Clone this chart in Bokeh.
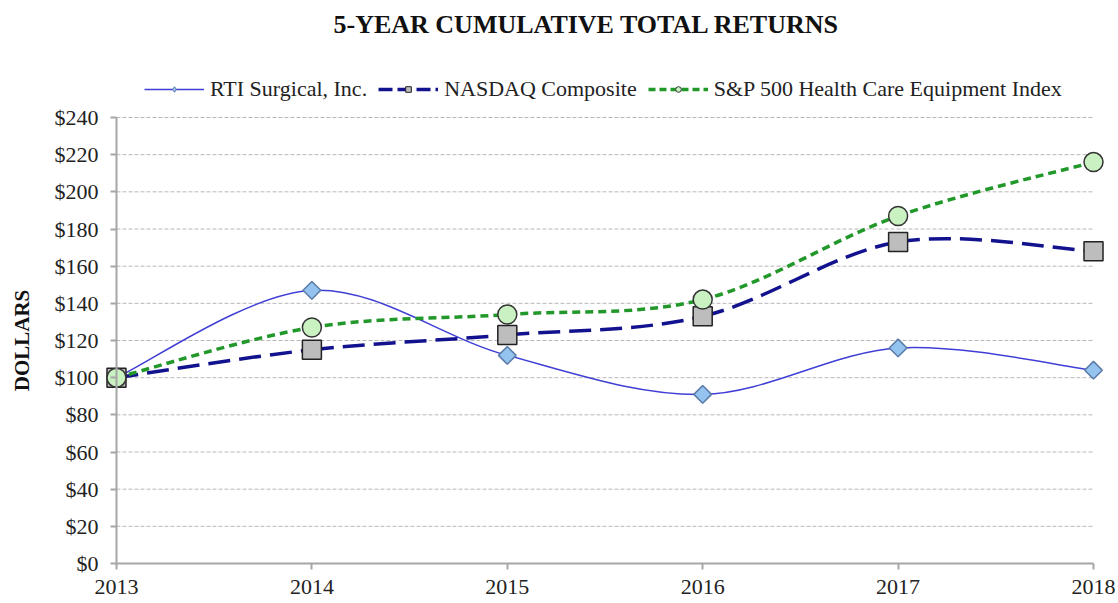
import math
from bokeh.plotting import figure
from bokeh.models import Legend, LegendItem, NumeralTickFormatter, FixedTicker, Range1d, Label
from bokeh.embed import file_html
from bokeh.resources import INLINE

years = [2013, 2014, 2015, 2016, 2017, 2018]
rti = [100, 147, 112, 91, 116, 104]
nasdaq = [100, 115, 123, 133, 173, 168]
sp_hce = [100, 127, 134, 142, 187, 216]
names = ["RTI Surgical, Inc.", "NASDAQ Composite", "S&P 500 Health Care Equipment Index"]
y_ticks = list(range(0, 241, 20))
title_text = "5-YEAR CUMULATIVE  TOTAL RETURNS"
FONT = "Liberation Serif"


def smooth_segments(xs, ys):
    """Excel-like smoothed line: cubic Bezier control points (Catmull-Rom, 1/6)."""
    n = len(xs)
    out = dict(x0=[], y0=[], x1=[], y1=[], cx0=[], cy0=[], cx1=[], cy1=[])
    for i in range(n - 1):
        xa, ya = (xs[i - 1], ys[i - 1]) if i > 0 else (xs[i], ys[i])
        xd, yd = (xs[i + 2], ys[i + 2]) if i + 2 < n else (xs[i + 1], ys[i + 1])
        out["x0"].append(xs[i]); out["y0"].append(ys[i])
        out["x1"].append(xs[i + 1]); out["y1"].append(ys[i + 1])
        out["cx0"].append(xs[i] + (xs[i + 1] - xa) / 6.0)
        out["cy0"].append(ys[i] + (ys[i + 1] - ya) / 6.0)
        out["cx1"].append(xs[i + 1] - (xd - xs[i]) / 6.0)
        out["cy1"].append(ys[i + 1] - (yd - ys[i]) / 6.0)
    return out


# The frame fills the whole canvas; ranges are padded so that 2013..2018 spans
# x 116..1093 px and $0..$240 spans y 563..117 px, with axes fixed at the origin.
p = figure(width=1118, height=603, output_backend="svg", toolbar_location=None, title=None,
           x_range=Range1d(2012.4064, 2018.1279), y_range=Range1d(-21.52, 302.96),
           min_border_left=0, min_border_right=0, min_border_top=0, min_border_bottom=0,
           background_fill_color="white", border_fill_color="white")
p.outline_line_color = None

# grid drawn as segments between first and last year
p.xgrid.grid_line_color = None
p.ygrid.grid_line_color = None
p.segment(x0=[years[0]] * (len(y_ticks) - 1), x1=[years[-1]] * (len(y_ticks) - 1),
          y0=y_ticks[1:], y1=y_ticks[1:], line_color="#b8b8b8", line_width=1, line_dash="4 2")

# axes fixed at the data origin
p.yaxis.ticker = FixedTicker(ticks=y_ticks)
p.xaxis.ticker = FixedTicker(ticks=years)
p.yaxis.formatter = NumeralTickFormatter(format="$0")
p.yaxis.fixed_location = years[0]
p.xaxis.fixed_location = 0
p.yaxis.bounds = (y_ticks[0], y_ticks[-1])
p.xaxis.bounds = (years[0], years[-1])
for ax in (p.xaxis, p.yaxis):
    ax.axis_line_color = "#a6a6a6"
    ax.axis_line_width = 2
    ax.major_tick_line_color = "#a6a6a6"
    ax.major_tick_line_width = 2
    ax.major_tick_out = 6
    ax.major_tick_in = 0
    ax.minor_tick_line_color = None
    ax.major_label_text_font = FONT
    ax.major_label_text_color = "#222222"
p.yaxis.major_label_text_font_size = "22px"
p.xaxis.major_label_text_font_size = "22px"
p.xaxis.major_label_standoff = 10
p.yaxis.major_label_standoff = 12
p.yaxis.axis_label = "DOLLARS"
p.yaxis.axis_label_text_font = FONT
p.yaxis.axis_label_text_font_size = "21px"
p.yaxis.axis_label_text_font_style = "bold"
p.yaxis.axis_label_text_color = "#111111"
p.yaxis.axis_label_standoff = 18

DIAMOND = math.pi / 4
styles = [
    dict(color="#3f3fd6", width=1.5, dash="solid", ldash="solid", lwidth=1.5, marker="square", angle=DIAMOND,
         size=12.5, fill="#95c3ef", mline="#5a7aa8", lmarker="diamond", lsize=11),
    dict(color="#12128f", width=3.5, dash="22 9", ldash="14 5", lwidth=3.5, marker="square", angle=0,
         size=19, fill="#bdbdbd", mline="#222222", lmarker="square", lsize=9),
    dict(color="#22982a", width=3.5, dash="8 5", ldash="7 4", lwidth=3.5, marker="circle", angle=0,
         size=19, fill="#c9f1c2", mline="#333333", lmarker="circle", lsize=9),
]
series = [rti, nasdaq, sp_hce]

items = []
for name, ys, st in zip(names, series, styles):
    seg = smooth_segments(years, ys)
    p.bezier(x0=seg["x0"], y0=seg["y0"], x1=seg["x1"], y1=seg["y1"],
             cx0=seg["cx0"], cy0=seg["cy0"], cx1=seg["cx1"], cy1=seg["cy1"],
             line_color=st["color"], line_width=st["width"], line_dash=st["dash"])
    # legend proxies (hidden under the real markers at the first point)
    lg_line = p.line(x=[years[0]], y=[ys[0]], line_color=st["color"],
                     line_width=st["lwidth"], line_dash=st["ldash"])
    lg_mark = p.scatter(x=[years[0]], y=[ys[0]], marker=st["lmarker"], size=st["lsize"],
                        fill_color=st["fill"], line_color=st["mline"], line_width=1)
    items.append(LegendItem(label=name, renderers=[lg_line, lg_mark]))

for ys, st in zip(series, styles):
    p.scatter(x=years, y=ys, marker=st["marker"], size=st["size"], angle=st["angle"],
              fill_color=st["fill"], line_color=st["mline"], line_width=1.5)

legend = Legend(items=items, orientation="horizontal", location=(144, 501),
                label_text_font=FONT, label_text_font_size="22px", label_text_color="#222222",
                glyph_width=60, glyph_height=14, spacing=11, label_standoff=6,
                border_line_color=None, background_fill_alpha=0, margin=0, padding=4)
p.add_layout(legend, "center")

p.add_layout(Label(x=333, y=579, x_units="screen", y_units="screen", text=title_text,
                   text_font=FONT, text_font_size="26px", text_font_style="bold",
                   text_color="#111111", text_baseline="alphabetic", text_align="left"))

open("out.html", "w").write(file_html(p, INLINE))
